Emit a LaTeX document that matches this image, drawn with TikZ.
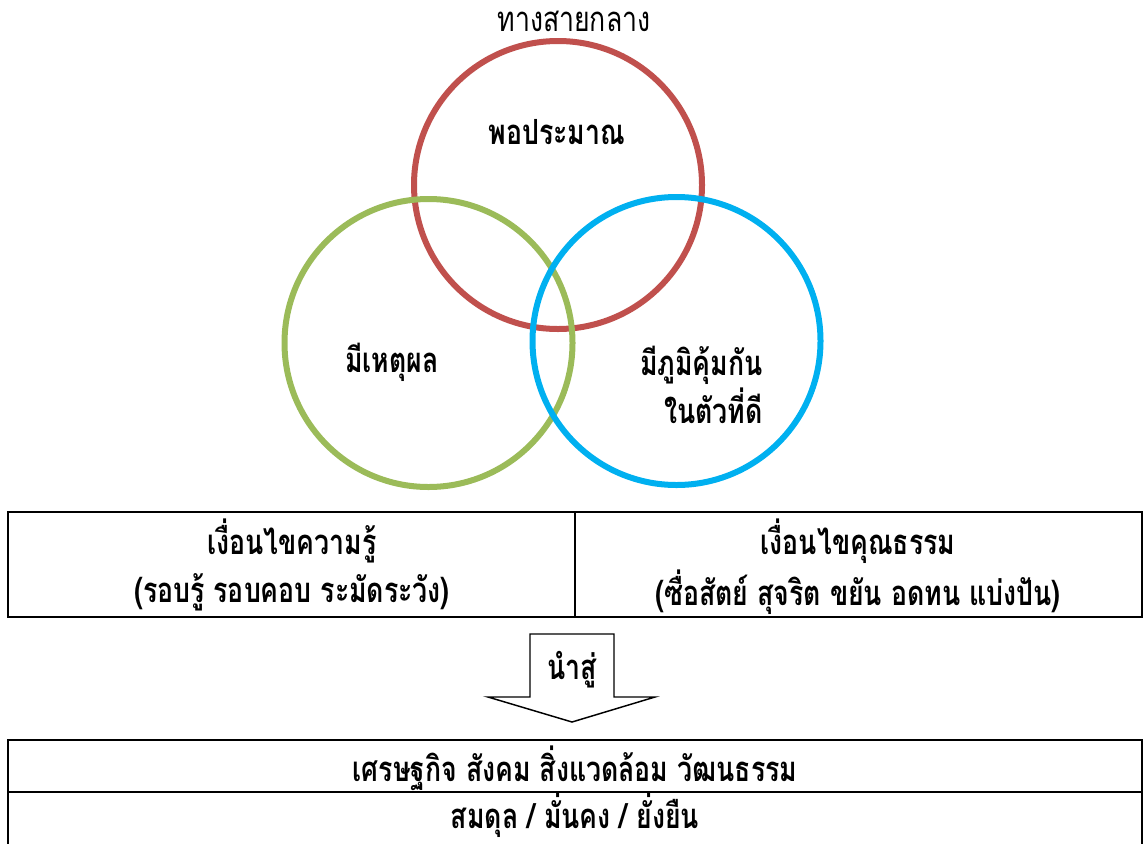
\documentclass[tikz,border=0pt]{standalone}
\usepackage{fontspec}
\newfontfamily\thai[Script=Thai]{Loma}
\newcommand\tx[1]{\scalebox{1}[1.3]{#1}}
\definecolor{cred}{HTML}{C0504D}
\definecolor{cgreen}{HTML}{9BBB59}
\definecolor{cblue}{HTML}{00B0F0}
\tikzset{
  ring/.style={circle, draw=#1, line width=4.5pt, minimum size=216pt, inner sep=0pt},
  lbl/.style={font=\thai\bfseries\fontsize{20}{36}\selectfont, inner sep=0pt},
  ttl/.style={font=\thai\fontsize{20}{36}\selectfont, inner sep=0pt},
  tbl/.style={line width=2pt, draw=black},
  arr/.style={line width=1.1pt, draw=black, fill=white, line join=miter}
}
\begin{document}
\begin{tikzpicture}[x=0.75pt, y=-0.75pt]
\useasboundingbox (0,0) rectangle (1144,843);
% circles
\node[ring=cred] (rc) at (558,185) {};
\node[ring=cgreen] (gc) at (428.5,343) {};
\node[ring=cblue] (bc) at (676.5,341) {};
% circle texts
\node[ttl] (t0) at (574,21) {\tx{ทางสายกลาง}};
\node[lbl] (t1) at (557,132) {\tx{พอประมาณ}};
\node[lbl] (t2) at (392,362) {\tx{มีเหตุผล}};
\node[lbl, align=right, anchor=east] (t3) at (763,385) {\tx{มีภูมิคุ้มกัน}\\\tx{ในตัวที่ดี}};
% table 1
\draw[tbl] (8,512) rectangle (1142,617);
\coordinate (d1) at (575,512);
\coordinate (d2) at (575,617);
\draw[tbl] (d1) -- (d2);
\node[lbl] (k1) at (292,541) {\tx{เงื่อนไขความรู้}};
\node[lbl] (k2) at (292,592) {\tx{(รอบรู้ รอบคอบ ระมัดระวัง)}};
\node[lbl] (m1) at (858,541) {\tx{เงื่อนไขคุณธรรม}};
\node[lbl] (m2) at (858,592) {\tx{(ซื่อสัตย์ สุจริต ขยัน อดทน แบ่งปัน)}};
% arrow
\draw[arr] (530,634) -- (614,634) -- (614,697) -- (655,697) -- (572,722) -- (488,697) -- (530,697) -- cycle;
\node[lbl] (ns) at (572,670) {\tx{นำสู่}};
% table 2
\draw[tbl] (8,740) rectangle (1142,850);
\coordinate (e1) at (8,792);
\coordinate (e2) at (1142,792);
\draw[tbl] (e1) -- (e2);
\node[lbl] (s1) at (575,768) {\tx{เศรษฐกิจ สังคม สิ่งแวดล้อม วัฒนธรรม}};
\node[lbl] (s2) at (575,815) {\tx{สมดุล / มั่นคง / ยั่งยืน}};
\end{tikzpicture}
\end{document}
